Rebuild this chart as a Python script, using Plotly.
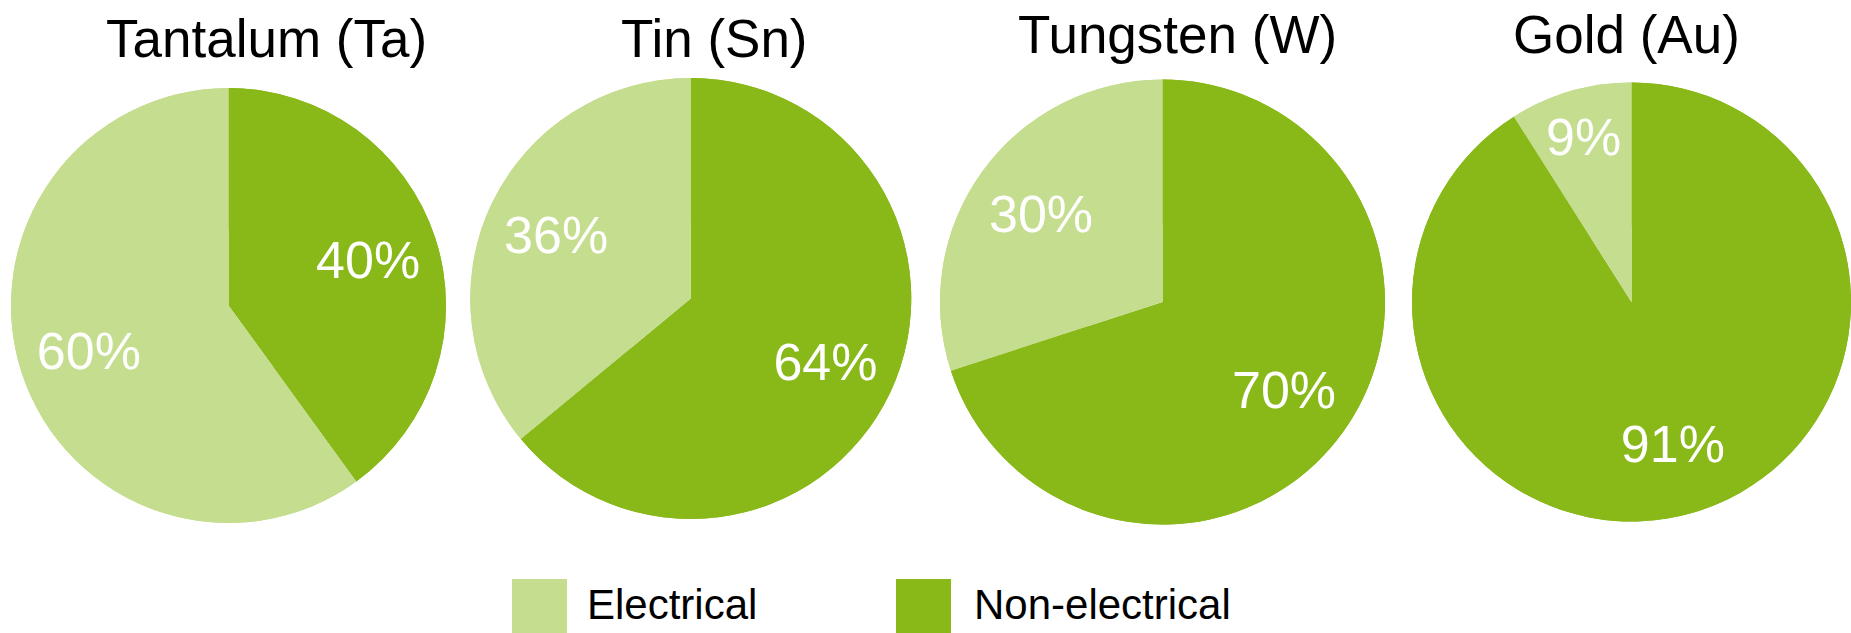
import plotly.graph_objects as go

# ---- data ----
metals = ["Tantalum (Ta)", "Tin (Sn)", "Tungsten (W)", "Gold (Au)"]
categories = ["Electrical", "Non-electrical"]
electrical = [60, 36, 30, 9]
non_electrical = [40, 64, 70, 91]

# ---- styles / layout ----
W, H = 1851, 633
colors = ["#C5DD8E", "#89B819"]
FONT = "Liberation Sans, Arial, Helvetica, sans-serif"

# pie boxes in pixels: (left, right, top, bottom)
pie_boxes = [(11, 446, 88, 523), (470, 911.5, 78, 519), (940, 1385, 79, 525), (1412, 1851, 79, 525)]
title_pos = [(266, 39), (714, 39), (1177, 35), (1626, 35)]


def px(x):
    return x / W


def py(y):
    return 1 - y / H


fig = go.Figure()
for i, m in enumerate(metals):
    l, r, t, b = pie_boxes[i]
    dom = dict(x=[px(l), px(r)], y=[py(b), py(t)])
    # Non-electrical first (clockwise from 12 o'clock), Electrical last
    labs = [categories[1], categories[0]]
    vals = [non_electrical[i], electrical[i]]
    cols = [colors[1], colors[0]]
    # base full pie (no labels)
    fig.add_trace(go.Pie(
        labels=labs, values=vals, domain=dom, sort=False,
        direction="clockwise", rotation=0,
        marker=dict(colors=cols, line=dict(width=0)),
        textinfo="none", showlegend=False, hoverinfo="label+percent", name=m,
    ))
    # label layer
    fig.add_trace(go.Pie(
        labels=labs, values=vals, domain=dom, sort=False, hole=0.35,
        direction="clockwise", rotation=0,
        marker=dict(colors=cols, line=dict(width=0)),
        texttemplate="%{value}%", textposition="inside",
        insidetextorientation="horizontal",
        textfont=dict(family=FONT, size=52, color="white"),
        showlegend=False, hoverinfo="skip", name=m,
    ))

annotations = []
for i, m in enumerate(metals):
    x, y = title_pos[i]
    annotations.append(dict(
        text=m, x=px(x), y=py(y), xref="paper", yref="paper",
        xanchor="center", yanchor="middle", showarrow=False,
        font=dict(family=FONT, size=53, color="black"),
    ))

# custom legend (large swatches)
legend_swatch = [(512, 567), (896, 951)]
legend_text_x = [585, 972]
shapes = []
for i, c in enumerate(categories):
    x0, x1 = legend_swatch[i]
    shapes.append(dict(type="rect", xref="paper", yref="paper",
                       x0=px(x0), x1=px(x1), y0=py(634), y1=py(579),
                       fillcolor=colors[i], line=dict(width=0), layer="above"))
    annotations.append(dict(
        text=c, x=px(legend_text_x[i]), y=py(604), xref="paper", yref="paper",
        xanchor="left", yanchor="middle", showarrow=False,
        font=dict(family=FONT, size=42, color="black"),
    ))

fig.update_layout(
    width=W, height=H,
    margin=dict(l=0, r=0, t=0, b=0),
    paper_bgcolor="white", plot_bgcolor="white",
    showlegend=False,
    annotations=annotations, shapes=shapes,
    uniformtext=dict(minsize=52, mode="show"),
)

fig.write_html("out.html", config={"displayModeBar": False},
               post_script="document.body.style.margin='0';")
